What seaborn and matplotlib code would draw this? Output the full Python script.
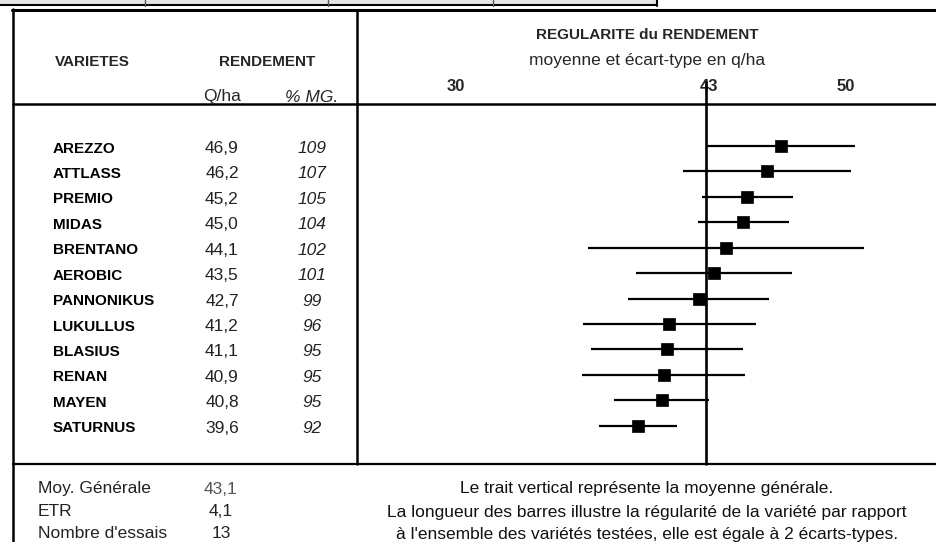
import numpy as np
import pandas as pd
import matplotlib
matplotlib.use("Agg")
import matplotlib.pyplot as plt
import matplotlib.transforms as mtransforms
from matplotlib.lines import Line2D
from matplotlib.patches import Rectangle
import seaborn as sns

# ---------------- data ----------------
varieties = ["AREZZO", "ATTLASS", "PREMIO", "MIDAS", "BRENTANO", "AEROBIC",
             "PANNONIKUS", "LUKULLUS", "BLASIUS", "RENAN", "MAYEN", "SATURNUS"]
yield_qha = [46.9, 46.2, 45.2, 45.0, 44.1, 43.5, 42.7, 41.2, 41.1, 40.9, 40.8, 39.6]
yield_txt = ["46,9", "46,2", "45,2", "45,0", "44,1", "43,5", "42,7", "41,2", "41,1", "40,9", "40,8", "39,6"]
pct_mg = ["109", "107", "105", "104", "102", "101", "99", "96", "95", "95", "95", "92"]
std_dev = [3.8, 4.3, 2.35, 2.35, 7.1, 4.0, 3.6, 4.45, 3.9, 4.2, 2.45, 2.0]
general_mean = 43.1
xticks = [30, 43, 50]
xtick_labels = ["30", "43", "50"]
footer_labels = ["Moy. Générale", "ETR", "Nombre d'essais"]
footer_values = ["43,1", "4,1", "13"]
footer_note = ["Le trait vertical représente la moyenne générale.",
               "La longueur des barres illustre la régularité de la variété par rapport",
               "à l'ensemble des variétés testées, elle est égale à 2 écarts-types."]

df = pd.DataFrame({"variety": varieties, "yield": yield_qha, "std": std_dev,
                   "pos": np.arange(len(varieties))})

# ---------------- figure ----------------
sns.set_style("white")
plt.rcParams["font.family"] = ["Liberation Sans", "DejaVu Sans"]

W, H = 937, 542
fig = plt.figure(figsize=(W / 100, H / 100), dpi=100)

def fx(x):
    return x / W

def fy(y):
    return 1 - y / H

ax = fig.add_axes([fx(357), fy(464), fx(937) - fx(357), fy(104) - fy(464)])
ax.set_xlim(25.17, 54.93)
ax.set_ylim(12.505, -1.652)
for s in ax.spines.values():
    s.set_visible(False)
ax.set_yticks([])

ax.errorbar(df["yield"], df["pos"], xerr=df["std"], fmt="none",
            ecolor="black", elinewidth=1.6, capsize=0, zorder=2)
sns.scatterplot(data=df, x="yield", y="pos", marker="s", s=70, color="black",
                edgecolor="black", linewidth=0.5, ax=ax, zorder=3, legend=False)
ax.set_xlabel("")
ax.set_ylabel("")
ax.axvline(general_mean, ymin=0, ymax=1 + (104 - 82) / 360, clip_on=False,
           color="black", lw=1.9, zorder=4)

ax.xaxis.tick_top()
ax.set_xticks(xticks)
ax.set_xticklabels(xtick_labels, fontsize=12, fontweight="bold")
ax.tick_params(axis="x", length=0, pad=7)
off = mtransforms.ScaledTranslation(5 / 100, 0, fig.dpi_scale_trans)
for lbl in ax.get_xticklabels():
    lbl.set_transform(lbl.get_transform() + off)

# ---------------- frame lines ----------------
def hline(y, x0, x1, lw=1.6, color="black"):
    fig.add_artist(Line2D([fx(x0), fx(x1)], [fy(y), fy(y)], color=color, lw=lw,
                          transform=fig.transFigure))

def vline(x, y0, y1, lw=1.6, color="black"):
    fig.add_artist(Line2D([fx(x), fx(x)], [fy(y0), fy(y1)], color=color, lw=lw,
                          transform=fig.transFigure))

fig.add_artist(Rectangle((0, fy(4.5)), fx(657), 1 - fy(4.5), transform=fig.transFigure,
                         facecolor="#e4e4e4", edgecolor="none"))
hline(4.5, 0, 657, lw=1.5)
vline(657, 0, 5.5, lw=1.5)
for xd in [145, 328, 493]:
    vline(xd, 0, 6, lw=1.0, color="#555555")

hline(10, 12, 937, lw=2.2)
vline(13, 9, 542, lw=1.8)
vline(357, 10, 464, lw=1.8)
hline(104, 13, 937, lw=1.8)
hline(464, 13, 937, lw=1.6)

# ---------------- headers ----------------
fb = 11      # bold text
fr = 12.5    # regular text
fig.text(fx(647), fy(35), "REGULARITE du RENDEMENT", ha="center", va="center",
         fontsize=fb, fontweight="bold")
fig.text(fx(647), fy(61), "moyenne et écart-type en q/ha", ha="center", va="center",
         fontsize=fr)
fig.text(fx(92), fy(62), "VARIETES", ha="center", va="center", fontsize=fb, fontweight="bold")
fig.text(fx(267), fy(62), "RENDEMENT", ha="center", va="center", fontsize=fb, fontweight="bold")
fig.text(fx(222), fy(97), "Q/ha", ha="center", va="center", fontsize=fr)
fig.text(fx(312), fy(97), "% MG.", ha="center", va="center", fontsize=fr, fontstyle="italic")

# ---------------- table rows ----------------
trans = mtransforms.blended_transform_factory(fig.transFigure, ax.transData)
dy = 0.1
for i, (name, ytxt, pct) in enumerate(zip(varieties, yield_txt, pct_mg)):
    ax.text(fx(53), i + dy, name, transform=trans, ha="left", va="center",
            fontsize=fb, fontweight="bold", color="black")
    ax.text(fx(222), i + dy, ytxt, transform=trans, ha="center", va="center",
            fontsize=fr, color="#222222")
    ax.text(fx(312), i + dy, pct, transform=trans, ha="center", va="center",
            fontsize=fr, fontstyle="italic", color="#222222")

# ---------------- footer ----------------
foot_y = [489, 512, 534]
for yy, lab, val, note in zip(foot_y, footer_labels, footer_values, footer_note):
    fig.text(fx(38), fy(yy), lab, ha="left", va="center", fontsize=fr, color="#222222")
    fig.text(fx(221), fy(yy), val, ha="center", va="center", fontsize=fr,
             color="#555555" if val == footer_values[0] else "#222222")
    fig.text(fx(647), fy(yy), note, ha="center", va="center", fontsize=fr, color="#111111")

fig.savefig("out.png", dpi=100)
